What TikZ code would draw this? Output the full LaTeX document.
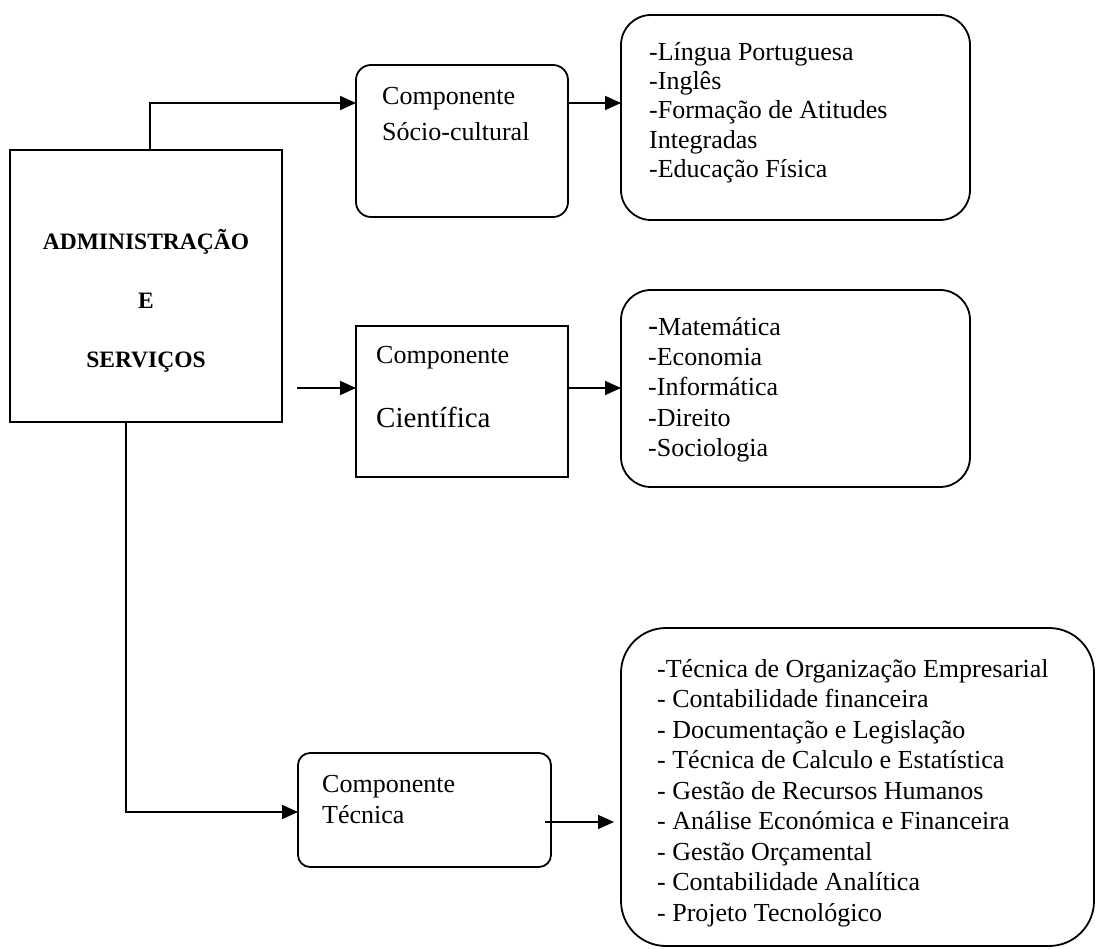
\documentclass[tikz,border=0pt]{standalone}
\usepackage{fontspec}
\setmainfont{Liberation Serif}
\usetikzlibrary{arrows.meta}
\newcommand\setfs[2]{\fontsize{#1}{#2}\selectfont}
\begin{document}
\begin{tikzpicture}[x=1pt,y=-1pt,
  box/.style={draw, line width=1.8pt, inner sep=0pt, outer sep=0pt, anchor=north west},
  rbox/.style={box, rounded corners=#1},
  txt/.style={anchor=north west, inner sep=0pt, align=left},
  conn/.style={line width=1.8pt, -{Triangle[length=16pt,width=14pt]}}
]
\useasboundingbox (0,0) rectangle (1096,949);

% boxes
\node[box, minimum width=272pt, minimum height=272pt] (main) at (10,150) {};
\node[rbox=15pt, minimum width=212pt, minimum height=152pt] (soc) at (356,65) {};
\node[rbox=30pt, minimum width=349pt, minimum height=205pt] (l1) at (621,15) {};
\node[box, minimum width=212pt, minimum height=151pt] (cie) at (356,326) {};
\node[rbox=30pt, minimum width=349pt, minimum height=197pt] (l2) at (621,290) {};
\node[rbox=12pt, minimum width=253pt, minimum height=114pt] (tec) at (298,753) {};
\node[rbox=45pt, minimum width=473pt, minimum height=318pt] (l3) at (621,628) {};

% texts
\node[anchor=north, inner sep=0pt, align=center, font=\bfseries\setfs{23.5}{59}] (maintxt) at (146,207.7)
  {\strut ADMINISTRAÇÃO\\\strut E\\\strut SERVIÇOS};
\node[txt, font=\setfs{26}{36}] (soctxt) at (382,78.8)
  {\strut Componente\\\strut Sócio-cultural};
\node[txt, font=\setfs{26}{29.3}] (l1txt) at (649,39.5)
  {\strut -Língua Portuguesa\\\strut -Inglês\\\strut -Formação de Atitudes\\\strut Integradas\\\strut -Educação Física};
\node[txt, font=\setfs{26}{64}] (cietxt) at (376,318.2)
  {\strut Componente\\\strut{\setfs{29}{64}Científica}};
\node[txt, font=\setfs{26}{30.3}] (l2txt) at (648,313.8)
  {\strut{\setfs{30}{30.3}-}Matemática\\\strut -Economia\\\strut -Informática\\\strut -Direito\\\strut -Sociologia};
\node[txt, font=\setfs{26}{31}] (tectxt) at (322,770.3)
  {\strut Componente\\\strut Técnica};
\node[txt, font=\setfs{26}{30.5}] (l3txt) at (657,655.6)
  {\strut -Técnica de Organização Empresarial\\
   \strut - Contabilidade financeira\\
   \strut - Documentação e Legislação\\
   \strut - Técnica de Calculo e Estatística\\
   \strut - Gestão de Recursos Humanos\\
   \strut - Análise Económica e Financeira\\
   \strut - Gestão Orçamental\\
   \strut - Contabilidade Analítica\\
   \strut - Projeto Tecnológico};

% connectors
\coordinate (cin) at (297,388);
\coordinate (tout) at (545,822);
\draw[conn] ([xshift=4pt]main.north) |- ([yshift=38pt]soc.west);
\draw[conn] ([yshift=38pt]soc.east) -- ([yshift=38pt]soc.east -| l1.west);
\draw[conn] (cin) -- (cin -| cie.west);
\draw[conn] (cin -| cie.east) -- (cin -| l2.west);
\draw[conn] ([xshift=-20pt]main.south) |- ([yshift=-2pt]tec.west);
\draw[conn] (tout) -- ([xshift=-7pt]tout -| l3.west);
\end{tikzpicture}
\end{document}
